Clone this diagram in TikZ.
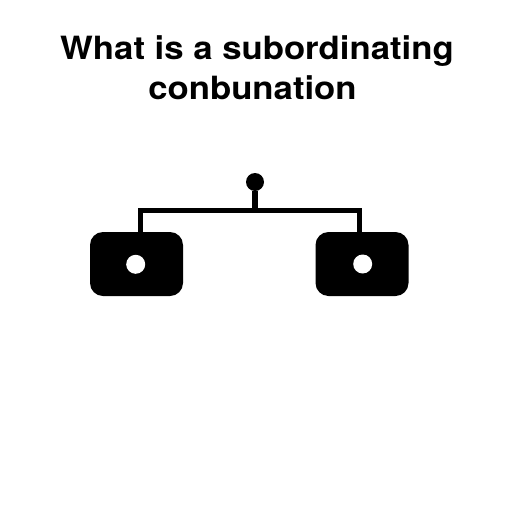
\documentclass[tikz,border=0pt]{standalone}
\usepackage{fontspec}
\setmainfont{TeX Gyre Heros}
\usepackage{tikz}
\usetikzlibrary{positioning}

\begin{document}
\begin{tikzpicture}[x=1pt,y=-1pt,
  heading/.style={font=\bfseries\fontsize{32}{40}\selectfont,anchor=base,inner sep=0pt},
  unitbox/.style={fill=black,rounded corners=13pt,minimum width=93pt,minimum height=64pt,inner sep=0pt},
  hole/.style={circle,fill=white,minimum size=19pt,inner sep=0pt},
  wire/.style={line width=5.5pt}]
\useasboundingbox[fill=white] (0,0) rectangle (512,512);

\node[heading] (title) at (257,59) {\scalebox{1.085}[1]{What is a subordinating}};
\node[heading] (subtitle) at (252.5,99) {\scalebox{1.085}[1]{conbunation}};

\node[circle,fill=black,minimum size=18pt,inner sep=0pt] (root) at (255,182) {};
\node[unitbox] (leftbox) at (136.5,264) {};
\node[unitbox] (rightbox) at (362,264) {};
\node[hole] (lefthole) at (135.7,264.3) {};
\node[hole] (righthole) at (362.7,264) {};

\coordinate (bar) at (255,210.5);
\draw[wire] (root) -- (bar);
\draw[wire] (bar) -| ([xshift=4pt]leftbox.north);
\draw[wire] (bar) -| ([xshift=-2.5pt]rightbox.north);

\end{tikzpicture}
\end{document}
